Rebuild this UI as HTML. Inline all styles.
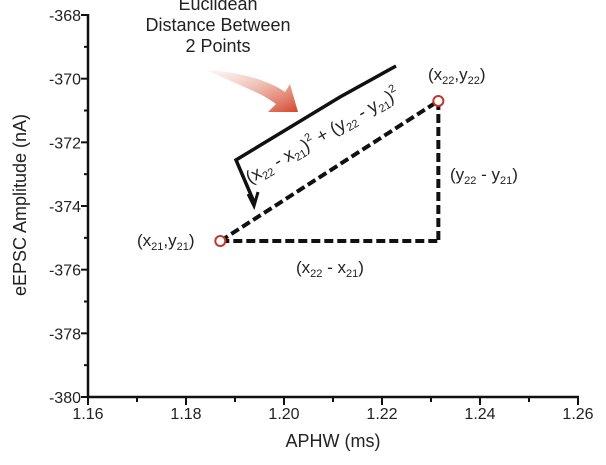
<!DOCTYPE html>
<html><head><meta charset="utf-8"><style>
body{margin:0;background:#fff;}
svg text{font-family:"Liberation Sans",sans-serif;fill:#222;}
</style></head><body>
<svg id="chart" width="606" height="460" viewBox="0 0 606 460" xmlns="http://www.w3.org/2000/svg">
<defs>
<linearGradient id="ag" x1="0" y1="0" x2="1" y2="1">
<stop offset="0" stop-color="#f6e0d8" stop-opacity="0.3"/>
<stop offset="1" stop-color="#d4452a"/>
</linearGradient>
</defs>
<g id="axes"></g>
<g id="marks"></g>
<text x="333" y="447" font-size="18" text-anchor="middle">APHW (ms)</text>
<text transform="translate(26,205) rotate(-90)" font-size="18" text-anchor="middle">eEPSC Amplitude (nA)</text>
<g font-size="18" text-anchor="middle">
<text x="218" y="10">Euclidean</text>
<text x="218" y="31">Distance Between</text>
<text x="218" y="52">2 Points</text>
</g>
<path d="M206,70 C240,72 268,80 285,92 L290,84 L298,112 L268,112 L276,104 C260,92 236,84 206,70 Z" fill="url(#ag)"/>
<path d="M254,202 L236,160 L340,97 L396,66" fill="none" stroke="#111" stroke-width="3.5"/>
<path d="M248,194 L254,206 L258,192" fill="none" stroke="#111" stroke-width="3"/>
<text transform="translate(250,184) rotate(-30)" font-size="18">(x<tspan font-size="11" dy="4">22</tspan><tspan dy="-4"> - x</tspan><tspan font-size="11" dy="4">21</tspan><tspan dy="-4">)</tspan><tspan font-size="11" dy="-8">2</tspan><tspan dy="8"> + (y</tspan><tspan font-size="11" dy="4">22</tspan><tspan dy="-4"> - y</tspan><tspan font-size="11" dy="4">21</tspan><tspan dy="-4">)</tspan><tspan font-size="11" dy="-8">2</tspan></text>
<text x="137" y="246" font-size="17">(x<tspan font-size="11" dy="4">21</tspan><tspan dy="-4">,y</tspan><tspan font-size="11" dy="4">21</tspan><tspan dy="-4">)</tspan></text>
<text x="428" y="80" font-size="17">(x<tspan font-size="11" dy="4">22</tspan><tspan dy="-4">,y</tspan><tspan font-size="11" dy="4">22</tspan><tspan dy="-4">)</tspan></text>
<text x="450" y="180" font-size="17">(y<tspan font-size="11" dy="4">22</tspan><tspan dy="-4"> - y</tspan><tspan font-size="11" dy="4">21</tspan><tspan dy="-4">)</tspan></text>
<text x="296" y="273" font-size="17">(x<tspan font-size="11" dy="4">22</tspan><tspan dy="-4"> - x</tspan><tspan font-size="11" dy="4">21</tspan><tspan dy="-4">)</tspan></text>
</svg>
<script>
const xTicks=["1.16","1.18","1.20","1.22","1.24","1.26"];
const yTicks=["-368","-370","-372","-374","-376","-378","-380"];
const pointX=[1.187,1.2315];
const pointY=[-375.1,-370.7];
const NS="http://www.w3.org/2000/svg";
const x0=88,x1=578,y0=397,y1=15;
const xs=v=>x0+(v-1.16)/(0.10)*(x1-x0);
const ys=v=>y0-(v+380)/12*(y0-y1);
function mk(t,a,p){const e=document.createElementNS(NS,t);for(const k in a)e.setAttribute(k,a[k]);p.appendChild(e);return e;}
const ax=document.getElementById('axes'),mg=document.getElementById('marks');
const xl=mk('line',{x1:x0,y1:y0,x2:x1+1,y2:y0,stroke:'#111','stroke-width':2.5},ax);


const yl=mk('line',{x1:x0,y1:y1-1,x2:x0,y2:y0+1,stroke:'#111','stroke-width':2.5},ax);


for(let i=0;i<=10;i++){const v=1.16+i*0.01,X=xs(v);mk('line',{x1:X,y1:y0,x2:X,y2:y0+(i%2?5:8),stroke:'#111','stroke-width':2},ax);}
xTicks.forEach(t=>{const e=mk('text',{x:xs(parseFloat(t)),y:y0+22,'font-size':16,'text-anchor':'middle'},ax);e.textContent=t;

});
for(let i=0;i<=12;i++){const Y=ys(-380+i);mk('line',{x1:x0,y1:Y,x2:x0-(i%2?4:7),y2:Y,stroke:'#111','stroke-width':2},ax);}
yTicks.forEach(t=>{const e=mk('text',{x:x0-7,y:ys(parseFloat(t))+6,'font-size':16,'text-anchor':'end'},ax);e.textContent=t;

});
const P1=[xs(pointX[0]),ys(pointY[0])],P2=[xs(pointX[1]),ys(pointY[1])];
const dash={stroke:'#111','stroke-width':4,'stroke-dasharray':'9,4',fill:'none'};
const hyp=mk('line',Object.assign({x1:P1[0],y1:P1[1],x2:P2[0],y2:P2[1]},dash),mg);


const dx=mk('line',Object.assign({x1:P1[0],y1:P1[1],x2:P2[0],y2:P1[1]},dash),mg);


const dy=mk('line',Object.assign({x1:P2[0],y1:P2[1],x2:P2[0],y2:P1[1]},dash),mg);


pointX.forEach((v,i)=>{const c=mk('circle',{cx:xs(v),cy:ys(pointY[i]),r:5,fill:'#fff',stroke:'#c0392b','stroke-width':2},mg);

});
</script>
</body></html>
